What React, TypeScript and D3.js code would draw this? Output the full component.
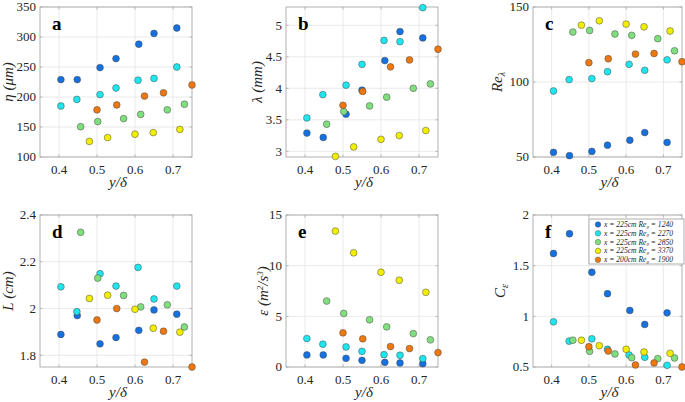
import React from "react";
import * as d3 from "d3";

// x positions (y/δ) per series
const xBlue = [0.405, 0.448, 0.508, 0.55, 0.61, 0.65, 0.71];
const xCyan = [0.405, 0.447, 0.508, 0.55, 0.608, 0.65, 0.71];
const xGreen = [0.457, 0.502, 0.57, 0.615, 0.685, 0.73];
const xYellow = [0.48, 0.528, 0.6, 0.648, 0.718];
const xOrange = [0.5, 0.552, 0.625, 0.675, 0.75];
const seriesX = [xBlue, xCyan, xGreen, xYellow, xOrange];

const seriesColors = ["#1570e0", "#1ee6ee", "#80de7e", "#f2ee00", "#ee780e"];
const legendX = ["225", "225", "225", "225", "200"];
const legendRe = ["1240", "2270", "2850", "3370", "1900"];

// panel values [blue, cyan, green, yellow, orange]
const eta = [
  [229, 229, 249, 264, 288, 306, 315],
  [185, 196, 204, 215, 228, 231, 250],
  [150.5, 159, 164, 171, 178.6, 188],
  [126, 132.4, 138, 140.7, 146],
  [178.6, 186.8, 201.6, 207, 220],
];
const lambda = [
  [3.29, 3.22, 3.59, 3.97, 4.44, 4.9, 4.8],
  [3.53, 3.9, 4.05, 4.38, 4.76, 4.74, 5.28],
  [3.43, 3.63, 3.72, 3.86, 4.0, 4.07],
  [2.92, 3.07, 3.19, 3.25, 3.33],
  [3.73, 3.95, 4.34, 4.45, 4.62],
];
const reLambda = [
  [53.1, 50.9, 53.7, 57.9, 61.2, 66.3, 59.7],
  [94, 101.6, 102.3, 106.9, 111.8, 107.8, 114.8],
  [133.3, 134.4, 132, 131.1, 128.9, 120.8],
  [137.9, 140.8, 138.6, 136.8, 134],
  [112.9, 115.5, 118.6, 119, 113.5],
];
const lScale = [
  [1.889, 1.97, 1.849, 1.876, 1.907, 1.994, 1.976],
  [2.093, 1.987, 2.149, 2.096, 2.176, 2.041, 2.096],
  [2.326, 2.13, 2.056, 2.007, 2.016, 1.921],
  [2.043, 2.057, 1.997, 1.916, 1.899],
  [1.951, 2.0, 1.771, 1.903, 1.75],
];
const epsilon = [
  [1.19, 1.19, 0.86, 0.66, 0.46, 0.4, 0.33],
  [2.81, 2.25, 1.98, 1.55, 1.22, 1.16, 0.83],
  [6.51, 5.29, 4.66, 3.96, 3.3, 2.68],
  [13.41, 11.27, 9.35, 8.56, 7.37],
  [3.37, 2.78, 2.02, 1.82, 1.42],
];
const cEps = [
  [1.62, 1.815, 1.435, 1.224, 1.058, 0.92, 1.035],
  [0.946, 0.755, 0.778, 0.675, 0.619, 0.596, 0.517],
  [0.764, 0.655, 0.629, 0.592, 0.583, 0.589],
  [0.764, 0.71, 0.675, 0.648, 0.635],
  [0.7, 0.658, 0.52, 0.54, 0.5],
];

const xTicks = [0.4, 0.5, 0.6, 0.7];
const xTickLabels = ["0.4", "0.5", "0.6", "0.7"];

type PanelDef = {
  letter: string;
  data: number[][];
  domain: [number, number];
  ticks: number[];
  tickLabels: string[];
  left: number;
  top: number;
  width: number;
  height: number;
  labelX: number;
  label: React.ReactNode;
  legend?: boolean;
};

const FONT = "Liberation Serif, DejaVu Serif, serif";
const fs = (size: number, extra: React.CSSProperties = {}): React.CSSProperties => ({
  fontFamily: FONT,
  fontSize: size,
  ...extra,
});

function Panel({ p }: { p: PanelDef }) {
  const h = p.height;
  const x = d3.scaleLinear().domain([0.35, 0.75]).range([p.left, p.left + p.width]);
  const y = d3.scaleLinear().domain(p.domain).range([p.top + h, p.top]);
  const bottom = p.top + h;
  const right = p.left + p.width;
  const grid = "#e4e4e4";
  const axis = "#a8a8a8";
  const txt = "#262626";
  return (
    <g>
      <rect x={p.left} y={p.top} width={p.width} height={h} fill="#fff" />
      {xTicks.map((t) => (
        <line key={"gx" + t} x1={x(t)} x2={x(t)} y1={p.top} y2={bottom} stroke={grid} strokeWidth={0.8} />
      ))}
      {p.ticks.map((t) => (
        <line key={"gy" + t} x1={p.left} x2={right} y1={y(t)} y2={y(t)} stroke={grid} strokeWidth={0.8} />
      ))}
      {xTicks.map((t) => (
        <g key={"tx" + t}>
          <line x1={x(t)} x2={x(t)} y1={bottom} y2={bottom - 2.5} stroke={axis} strokeWidth={0.8} />
          <line x1={x(t)} x2={x(t)} y1={p.top} y2={p.top + 2.5} stroke={axis} strokeWidth={0.8} />
        </g>
      ))}
      {p.ticks.map((t) => (
        <g key={"ty" + t}>
          <line x1={p.left} x2={p.left + 2.5} y1={y(t)} y2={y(t)} stroke={axis} strokeWidth={0.8} />
          <line x1={right} x2={right - 2.5} y1={y(t)} y2={y(t)} stroke={axis} strokeWidth={0.8} />
        </g>
      ))}
      <rect x={p.left} y={p.top} width={p.width} height={h} fill="none" stroke={axis} strokeWidth={0.9} />
      {xTicks.map((t, i) => (
        <text key={"lx" + t} x={x(t)} y={bottom + 17} textAnchor="middle" style={fs(13)} fill={txt}>
          {xTickLabels[i]}
        </text>
      ))}
      {p.ticks.map((t, i) => (
        <text key={"ly" + t} x={p.left - 4} y={y(t) + 4.3} textAnchor="end" style={fs(13)} fill={txt}>
          {p.tickLabels[i]}
        </text>
      ))}
      <text x={p.left + p.width / 2 + 2} y={bottom + 30} textAnchor="middle" style={fs(15, { fontStyle: "italic" })} fill={txt}>
        y/δ
      </text>
      <text
        transform={`translate(${p.labelX},${p.top + h / 2}) rotate(-90)`}
        textAnchor="middle"
        style={fs(15, { fontStyle: "italic" })}
        fill={txt}
      >
        {p.label}
      </text>
      <text x={p.left + 12} y={p.top + 23} style={fs(19, { fontWeight: "bold" })} fill="#000">
        {p.letter}
      </text>
      {p.data.map((vals, si) =>
        vals.map((v, i) => (
          <circle
            key={si + "-" + i}
            cx={x(seriesX[si][i])}
            cy={y(v)}
            r={3.4}
            fill={seriesColors[si]}
            stroke="#4a4a4a"
            strokeWidth={0.5}
          />
        ))
      )}
      {p.legend && (
        <g>
          <rect x={589} y={p.top + 4} width={95} height={45} fill="#fff" stroke="#9a9a9a" strokeWidth={0.8} />
          {seriesColors.map((c, i) => (
            <g key={"lg" + i}>
              <circle cx={598} cy={p.top + 9.5 + i * 8.8} r={2.8} fill={c} stroke="#4a4a4a" strokeWidth={0.4} />
              <text x={604} y={p.top + 12 + i * 8.8} style={fs(7.6, { fontStyle: "italic" })} fill={txt}>
                {`x = ${legendX[i]}cm Re`}
                <tspan style={{ fontSize: 5 }} dy={1.5}>θ</tspan>
                <tspan dy={-1.5}>{` = ${legendRe[i]}`}</tspan>
              </text>
            </g>
          ))}
        </g>
      )}
    </g>
  );
}

export default function App() {
  const panels: PanelDef[] = [
    {
      letter: "a", data: eta, domain: [100, 350], ticks: [100, 150, 200, 250, 300, 350],
      tickLabels: ["100", "150", "200", "250", "300", "350"], left: 40, top: 7, width: 152, height: 150, labelX: 13,
      label: (<>η (μm)</>),
    },
    {
      letter: "b", data: lambda, domain: [2.91, 5.29], ticks: [3, 3.5, 4, 4.5, 5],
      tickLabels: ["3", "3.5", "4", "4.5", "5"], left: 286, top: 7, width: 152, height: 150, labelX: 262,
      label: (<>λ (mm)</>),
    },
    {
      letter: "c", data: reLambda, domain: [50, 150], ticks: [50, 100, 150],
      tickLabels: ["50", "100", "150"], left: 533, top: 7, width: 149, height: 150, labelX: 502,
      label: (<>Re<tspan style={{ fontSize: 10 }} dy={3}>λ</tspan></>),
    },
    {
      letter: "d", data: lScale, domain: [1.75, 2.4], ticks: [1.8, 2, 2.2, 2.4],
      tickLabels: ["1.8", "2", "2.2", "2.4"], left: 40, top: 215, width: 152, height: 152, labelX: 13,
      label: (<>L (cm)</>),
    },
    {
      letter: "e", data: epsilon, domain: [0, 15], ticks: [0, 5, 10, 15],
      tickLabels: ["0", "5", "10", "15"], left: 286, top: 215, width: 152, height: 152, labelX: 268,
      label: (<>ε (m<tspan style={{ fontSize: 9 }} dy={-5}>2</tspan><tspan dy={5}>/s</tspan><tspan style={{ fontSize: 9 }} dy={-5}>3</tspan><tspan dy={5}>)</tspan></>),
    },
    {
      letter: "f", data: cEps, domain: [0.5, 2], ticks: [0.5, 1, 1.5, 2],
      tickLabels: ["0.5", "1", "1.5", "2"], left: 533, top: 215, width: 149, height: 152, labelX: 505,
      label: (<>C<tspan style={{ fontSize: 10 }} dy={3}>ε</tspan></>),
      legend: true,
    },
  ];
  return (
    <svg
      width={685}
      height={402}
      style={{ position: "absolute", left: 0, top: 0, background: "#fff" }}
    >
      <rect width={685} height={402} fill="#fff" />
      {panels.map((p) => (
        <Panel key={p.letter} p={p} />
      ))}
    </svg>
  );
}
